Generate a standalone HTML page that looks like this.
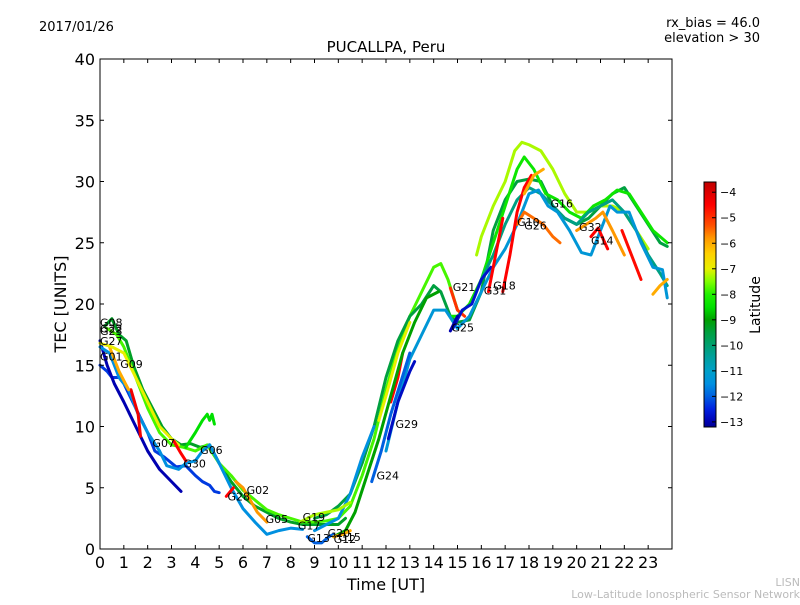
<!DOCTYPE html>
<html><head><meta charset="utf-8"><style>
body{margin:0;background:#fff;}
svg text{font-family:"DejaVu Sans","Liberation Sans",sans-serif;}
</style></head><body>
<svg id="chart" width="800" height="600" viewBox="0 0 800 600" xmlns="http://www.w3.org/2000/svg">
<defs><linearGradient id="jet" x1="0" y1="0" x2="0" y2="1"></linearGradient></defs>
<rect width="800" height="600" fill="#fff"/>
<text x="39" y="31" font-size="13">2017/01/26</text>
<text x="760" y="27" font-size="13" text-anchor="end">rx_bias = 46.0</text>
<text x="760" y="42" font-size="13" text-anchor="end">elevation &gt; 30</text>
<text x="386" y="52" font-size="15" text-anchor="middle">PUCALLPA, Peru</text>
<g id="plot"></g>
<g id="axes"></g>
<text x="386" y="590" font-size="16" text-anchor="middle">Time [UT]</text>
<text transform="translate(66,304) rotate(-90)" font-size="16" text-anchor="middle">TEC [UNITS]</text>
<rect x="704" y="182" width="12" height="245" fill="url(#jet)" stroke="#000" stroke-width="1"/>
<g id="cbticks"></g>
<text transform="translate(760,305) rotate(-90)" font-size="14" text-anchor="middle">Latitude</text>
<text x="800" y="586" font-size="11" fill="#bbb" text-anchor="end">LISN</text>
<text x="800" y="598" font-size="11" fill="#bbb" text-anchor="end">Low-Latitude Ionospheric Sensor Network</text>
</svg>
<script>
const xTicks=[0,1,2,3,4,5,6,7,8,9,10,11,12,13,14,15,16,17,18,19,20,21,22,23];
const yTicks=[0,5,10,15,20,25,30,35,40];
const cbTicks=[-4,-5,-6,-7,-8,-9,-10,-11,-12,-13];
const trackLats=[-9.3,-7.8,-9.5,-7.3,-8.3,-10.2,-11.3,-5.5,-4.5,-6,-4.5,-4.6,-5.8,-6,-5,-12.7,-13,-4.5,-7,-4.5,-12.8,-11.5,-12,-9,-12.3,-13,-11.5,-4.3,-6,-7,-8.5,-4.5,-5.8,-4.5,-12,-6,-7.3];
const trackPts=[
[[0.2,18.2],[0.5,18.8],[0.8,17.5],[1.1,17],[1.4,15],[1.8,13],[2.2,11.5],[2.6,10],[3,9],[3.4,8.5],[3.8,8.6],[4.2,8.3],[4.6,8.5],[5,7],[5.5,5.5],[6,4.3],[6.5,3.5],[7,3],[7.5,2.5],[8,2.2],[8.5,2],[9,2],[9.5,2],[10,2],[10.3,2.5]],
[[0.3,18],[0.7,17.5],[1,16.5],[1.5,14],[2,11.5],[2.5,9.5],[3,8.5],[3.5,8.3],[4,8],[4.5,8.5],[5,7],[5.5,6],[6,4.8],[6.5,4],[7,3.2],[7.5,2.8],[8,2.5],[8.5,2.2],[9,2.2],[9.5,2.3],[10,2.5],[10.5,3.5],[11,6],[11.5,9],[12,13],[12.5,16.5],[13,19],[13.5,21],[14,23],[14.3,23.3],[14.6,22],[15,19.5]],
[[9,2.5],[9.5,2.8],[10,3.5],[10.5,4.5],[11,7],[11.5,10],[12,14],[12.5,17],[13,19],[13.5,20],[14,21.5],[14.3,21],[14.7,19],[15,18.5],[15.5,18.7],[16,21],[16.5,26],[17,28.5],[17.5,30],[18,30.2],[18.5,30],[19,28],[19.5,27],[20,26.5],[20.5,27],[21,28],[21.5,29],[22,29.5],[22.5,28],[23,26.5],[23.5,25],[23.8,24.7]],
[[15.8,24],[16,25.5],[16.5,28],[17,30],[17.4,32.5],[17.7,33.2],[18,33],[18.5,32.5],[19,31],[19.5,29],[20,27.5],[20.5,27.5],[21,28],[21.5,28],[22,27.5],[22.5,26],[23,24.5]],
[[14.7,19],[15,19],[15.5,20],[16,22],[16.5,25],[17,28],[17.5,31],[17.8,32],[18.2,31],[18.7,29],[19.2,28.5],[19.7,27.5],[20.2,27],[20.7,28],[21.2,28.5],[21.7,29.3],[22.2,29],[22.7,27.5],[23.2,26],[23.8,25]],
[[16,22],[16.5,24],[17,26.5],[17.5,28.5],[18,29.5],[18.5,29],[19,28],[19.5,27],[20,26.5],[20.5,27.5],[21,28],[21.5,28.5],[22,27.5],[22.5,26],[23,24],[23.5,22.5],[23.8,21.5]],
[[12,8],[12.5,12],[13,15.5],[13.5,17.5],[14,19.5],[14.5,19.5],[15,18],[15.5,19],[16,21],[16.5,23],[17,24.5],[17.5,26.5],[18,29],[18.4,29.3],[18.8,28],[19.2,27.5],[19.7,26],[20.2,24.2],[20.6,24],[21,26],[21.4,28],[21.7,27.5],[22.2,27.5],[22.7,25],[23.2,23],[23.6,22.8],[23.8,20.5]],
[[17.5,26.5],[17.8,27.5],[18.2,27],[18.6,26.5],[19,25.5],[19.3,25]],
[[16.9,21],[17.2,24],[17.5,27.5],[17.8,29.5],[18.1,30.5]],
[[17.8,29],[18.2,30.5],[18.6,31]],
[[20.6,25.5],[20.9,26.2],[21.3,24.5]],
[[21.9,26],[22.3,24],[22.7,22]],
[[20,26],[20.4,26.5],[20.8,27],[21.1,27.5],[21.5,26],[22,24]],
[[23.2,20.8],[23.5,21.5],[23.8,22]],
[[14.7,21.3],[15,19.5],[15.3,19]],
[[14.8,18],[15.2,19.5],[15.6,20],[16,22],[16.4,23]],
[[14.7,17.8],[15,19]],
[[16.3,21],[16.6,24],[16.9,27]],
[[11.7,10.5],[12,12.5],[12.5,16],[13,18.5]],
[[12.2,12],[12.5,14],[12.7,16]],
[[12.1,9],[12.5,12],[13,14.5],[13.2,15.3]],
[[9,1.5],[9.5,2],[10,2.5],[10.5,4.5],[11,7.5],[11.5,10]],
[[11.4,5.5],[11.8,8],[12.2,11],[12.6,13.5],[13,16]],
[[9.8,1],[10.3,1.5],[10.7,3],[11.2,6],[11.7,9],[12.2,12.5],[12.7,16],[13.2,18.5],[13.7,20.5],[14.2,21]],
[[0,15],[0.3,14.5],[0.5,14],[0.8,14],[1,13.5],[1.5,11.5],[2,9.5],[2.3,8],[2.7,7.5],[3.2,6.7],[3.6,6.8],[4,6],[4.3,5.5],[4.6,5.2],[4.8,4.7],[5,4.6]],
[[0,17],[0.3,15],[0.6,13.5],[1,12],[1.5,10],[2,8],[2.5,6.5],[3,5.5],[3.4,4.7]],
[[0,16.5],[0.4,16],[0.8,14],[1.2,13],[1.6,11],[2,9.5],[2.5,8],[2.8,6.8],[3.3,6.5],[3.6,7],[4,7.2],[4.3,8],[4.6,8.5],[5,7],[5.5,5],[6,3.3],[6.5,2.2],[7,1.2],[7.5,1.5],[8,1.7],[8.5,1.6]],
[[1.3,13],[1.6,11],[1.7,9.2]],
[[0.4,16.5],[0.8,14.5],[1.2,13]],
[[0,16.8],[0.5,16.5],[1,16],[1.5,14],[2,12],[2.5,10],[3,9],[3.3,8.5]],
[[3.6,8.3],[4,9.5],[4.3,10.5],[4.5,11],[4.6,10.5],[4.7,11],[4.8,10.2]],
[[3.1,8.8],[3.4,7.8],[3.6,7.2]],
[[5.7,5.5],[6,5],[6.3,4],[6.6,3],[7,2.2]],
[[5.3,4.3],[5.6,5]],
[[8.7,1],[9,0.5],[9.3,0.5],[9.6,1],[9.8,1.2]],
[[9.8,1],[10.2,1.2],[10.5,1.5]],
[[8.4,2.2],[9,2.8],[9.5,3],[10,3.2],[10.5,3.8]]
];
const labelNames=["G08","G22","G23","G27","G01","G09","G07","G06","G30","G28","G02","G05","G17","G19","G13","G20","G12","G15","G24","G29","G25","G21","G31","G18","G10","G26","G16","G32","G14"];
const labelT=[0,0,0,0,0,0.85,2.2,4.2,3.5,5.35,6.15,6.95,8.3,8.5,8.7,9.55,9.8,10,11.6,12.4,14.75,14.8,16.1,16.5,17.5,17.8,18.9,20.1,20.6];
const labelV=[18.5,18,17.8,17,15.7,15.1,8.65,8.1,7,4.3,4.8,2.45,1.9,2.6,0.9,1.3,0.8,1,6,10.2,18.1,21.4,21.1,21.5,26.7,26.4,28.2,26.3,25.2];

const X0=100,X1=672,Y0=549,Y1=59;
const xs=t=>X0+t*(X1-X0)/24;
const ys=v=>Y0-v*(Y0-Y1)/40;
const VMIN=-13.2,VMAX=-3.6;
const cy=l=>182+(VMAX-l)/(VMAX-VMIN)*245;
const CM=[[-3.6,[192,0,0]],[-4.5,[255,0,0]],[-5.3,[255,80,0]],[-5.8,[255,152,0]],[-6.4,[255,208,0]],[-7,[232,240,0]],[-7.5,[128,255,0]],[-8,[32,240,0]],[-8.5,[0,224,0]],[-9,[0,160,0]],[-9.5,[0,160,64]],[-10,[0,160,112]],[-10.5,[0,160,160]],[-11,[0,160,200]],[-11.5,[0,144,224]],[-12,[0,96,224]],[-12.5,[0,32,224]],[-13,[0,0,176]],[-13.2,[0,0,144]]];
function jet(l){
 if(l>=CM[0][0])return `rgb(${CM[0][1]})`;
 for(let i=0;i<CM.length-1;i++){const a=CM[i],b=CM[i+1];
  if(l<=a[0]&&l>=b[0]){const f=(a[0]-l)/(a[0]-b[0]);return 'rgb('+a[1].map((v,k)=>Math.round(v+(b[1][k]-v)*f)).join(',')+')';}}
 return `rgb(${CM[CM.length-1][1]})`;}
const NS="http://www.w3.org/2000/svg";
const mk=(tag,attrs,parent)=>{const e=document.createElementNS(NS,tag);for(const k in attrs)e.setAttribute(k,attrs[k]);parent.appendChild(e);return e;};
const grad=document.getElementById('jet');
CM.forEach(s=>mk('stop',{offset:(VMAX-s[0])/(VMAX-VMIN),'stop-color':`rgb(${s[1]})`},grad));
const plot=document.getElementById('plot'),axes=document.getElementById('axes');
trackPts.forEach((pts,i)=>{
 const p=mk('polyline',{points:pts.map(q=>xs(q[0])+','+ys(q[1])).join(' '),fill:'none',stroke:jet(trackLats[i]),'stroke-width':3,'stroke-linejoin':'round','stroke-linecap':'round'},plot);
 
 
});
labelNames.forEach((n,i)=>{
 const t=mk('text',{x:xs(labelT[i]),y:ys(labelV[i])+4,'font-size':11},plot);
 t.textContent=n;
 
 
});
const fr=mk('rect',{x:X0,y:Y1,width:X1-X0,height:Y0-Y1,fill:'none',stroke:'#000','stroke-width':1},axes);


xTicks.forEach(t=>{const x=xs(t);
 mk('line',{x1:x,y1:Y0,x2:x,y2:Y0-4,stroke:'#000'},axes);
 mk('line',{x1:x,y1:Y1,x2:x,y2:Y1+4,stroke:'#000'},axes);
 const tx=mk('text',{x:x,y:568,'font-size':16,'text-anchor':'middle'},axes);tx.textContent=t;
 
 
});
yTicks.forEach(v=>{const y=ys(v);
 mk('line',{x1:X0,y1:y,x2:X0+4,y2:y,stroke:'#000'},axes);
 mk('line',{x1:X1,y1:y,x2:X1-4,y2:y,stroke:'#000'},axes);
 const tx=mk('text',{x:95,y:y+6,'font-size':16,'text-anchor':'end'},axes);tx.textContent=v;
 
 
});
const cb=document.getElementById('cbticks');
cbTicks.forEach(l=>{const y=cy(l);
 mk('line',{x1:712,y1:y,x2:716,y2:y,stroke:'#000'},cb);
 const tx=mk('text',{x:720,y:y+4,'font-size':11},cb);tx.textContent='\u2212'+Math.abs(l);
 
 
});
</script>
</body></html>
